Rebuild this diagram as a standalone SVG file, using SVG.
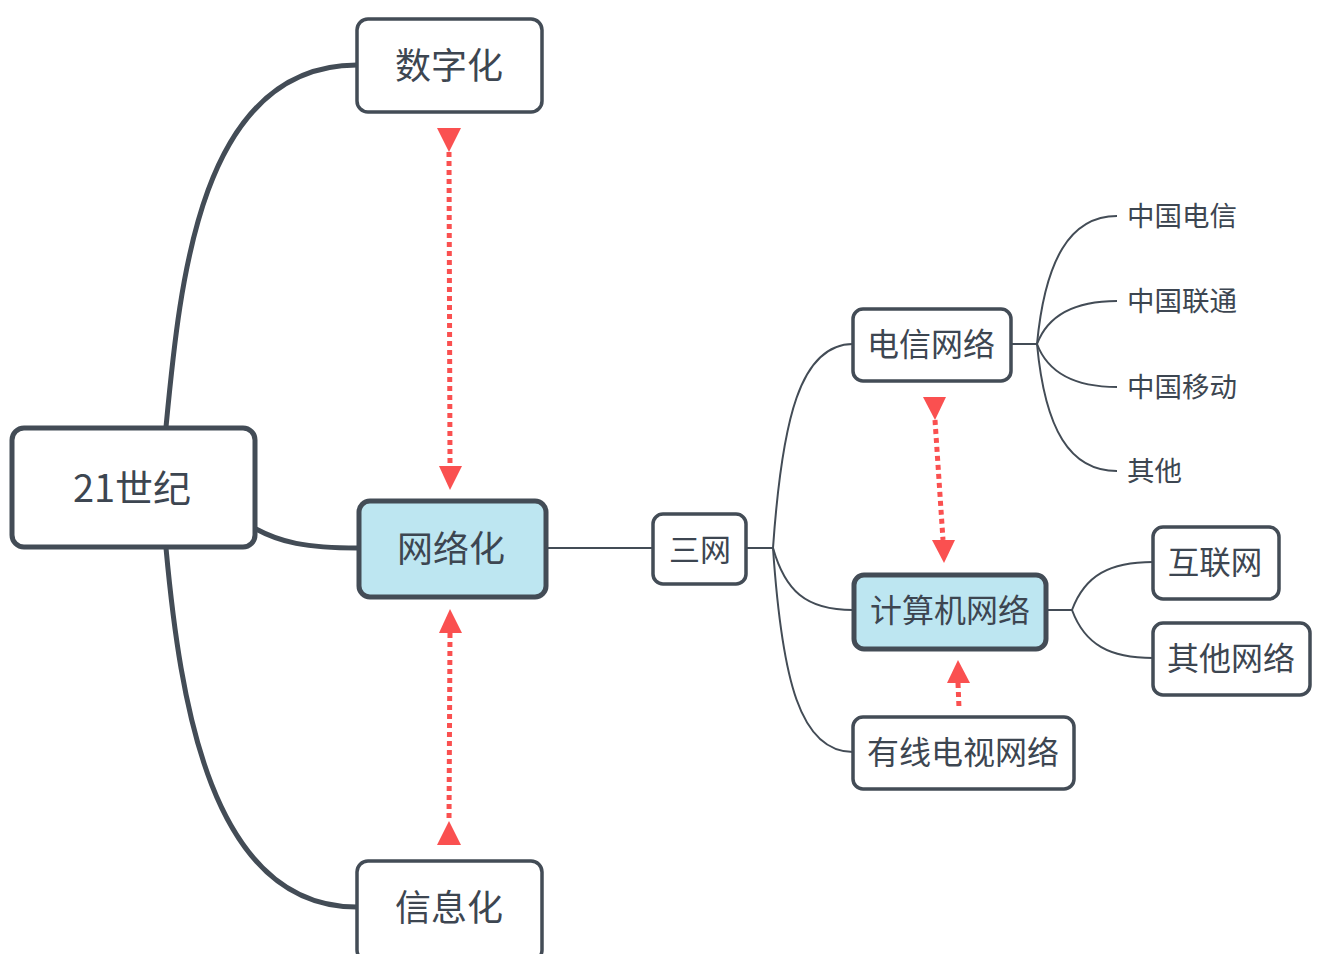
<svg xmlns="http://www.w3.org/2000/svg" width="1325" height="954" viewBox="0 0 1325 954">
<defs>
<style>
.box{fill:#fff;stroke:#434c56;stroke-width:3.5}
.hl{fill:#bde6f1;stroke:#434c56;stroke-width:5}
.root{fill:#fff;stroke:#434c56;stroke-width:5}
.t{font-family:"Noto Sans CJK SC","Noto Sans",sans-serif;fill:#3d4651;text-anchor:middle;dominant-baseline:central}
.leaf{font-family:"Noto Sans CJK SC","Noto Sans",sans-serif;fill:#3d4651;font-size:27.5px;dominant-baseline:central}
.thick{fill:none;stroke:#434c56;stroke-width:5}
.thin{fill:none;stroke:#434c56;stroke-width:2}
.dot{fill:none;stroke:#fa5050;stroke-width:5;stroke-dasharray:5 4}
.head{fill:#fa5050}
</style>
</defs>
<g id="connectors">
<path class="thick" d="M166,427 C180,280 200,65 357,65"/>
<path class="thick" d="M256,529 C280,542 305,548 358,548"/>
<path class="thick" d="M166,548 C180,700 210,907 357,907"/>
<path class="thin" d="M547,548 L653,548"/>
<path class="thin" d="M747,548 L773,548"/>
<path class="thin" d="M773,548 C782,420 800,344 853,344"/>
<path class="thin" d="M773,548 C785,590 805,610 853,610"/>
<path class="thin" d="M773,548 C782,680 800,752 853,752"/>
<path class="thin" d="M1011,344 L1037,344"/>
<path class="thin" d="M1037,344 C1045,260 1070,216 1117,216"/>
<path class="thin" d="M1037,344 C1048,315 1075,301 1117,301"/>
<path class="thin" d="M1037,344 C1048,373 1075,387 1117,387"/>
<path class="thin" d="M1037,344 C1045,430 1070,471 1117,471"/>
<path class="thin" d="M1047,610 L1072,610"/>
<path class="thin" d="M1072,610 C1085,575 1110,562 1153,562"/>
<path class="thin" d="M1072,610 C1085,645 1110,658 1153,658"/>
<path class="dot" d="M449,152 L450,466"/>
<polygon class="head" points="437,128 461,128 449,152"/>
<polygon class="head" points="439,466 462,466 450,490"/>
<path class="dot" d="M450,633 L449,822"/>
<polygon class="head" points="439,633 462,633 450,609"/>
<polygon class="head" points="437,845 461,845 449,821"/>
<path class="dot" d="M935,420 L943,540"/>
<polygon class="head" points="923,397 946,397 935,420"/>
<polygon class="head" points="932,540 955,540 944,563"/>
<path class="dot" d="M958,683 L959,708"/>
<polygon class="head" points="947,683 970,683 958,660"/>
</g>
<g id="n-root"><rect class="root" x="12" y="428" width="243" height="119" rx="12"/><text class="t" x="132" y="485" font-size="38">21世纪</text></g>
<g id="n-digital"><rect class="box" x="357" y="19" width="185" height="93" rx="11"/><text class="t" x="449" y="63" font-size="36">数字化</text></g>
<g id="n-network"><rect class="hl" x="359" y="501" width="187" height="96" rx="11"/><text class="t" x="451" y="546" font-size="36">网络化</text></g>
<g id="n-info"><rect class="box" x="357" y="861" width="185" height="100" rx="11"/><text class="t" x="449" y="905" font-size="36">信息化</text></g>
<g id="n-sanwang"><rect class="box" x="653" y="514" width="93" height="70" rx="10"/><text class="t" x="700" y="547" font-size="31">三网</text></g>
<g id="n-telecom"><rect class="box" x="853" y="309" width="158" height="72" rx="10"/><text class="t" x="931" y="342" font-size="32">电信网络</text></g>
<g id="n-computer"><rect class="hl" x="854" y="575" width="192" height="74" rx="10"/><text class="t" x="950" y="608" font-size="32">计算机网络</text></g>
<g id="n-cable"><rect class="box" x="853" y="717" width="221" height="72" rx="10"/><text class="t" x="963" y="750" font-size="32">有线电视网络</text></g>
<g id="n-internet"><rect class="box" x="1153" y="527" width="126" height="72" rx="10"/><text class="t" x="1215" y="560" font-size="31.5">互联网</text></g>
<g id="n-othernet"><rect class="box" x="1153" y="623" width="157" height="72" rx="10"/><text class="t" x="1231" y="656" font-size="32">其他网络</text></g>
<g id="n-ct"><text class="leaf" x="1127" y="214">中国电信</text></g>
<g id="n-cu"><text class="leaf" x="1127" y="299">中国联通</text></g>
<g id="n-cm"><text class="leaf" x="1127" y="385">中国移动</text></g>
<g id="n-other"><text class="leaf" x="1127" y="469">其他</text></g>
</svg>
